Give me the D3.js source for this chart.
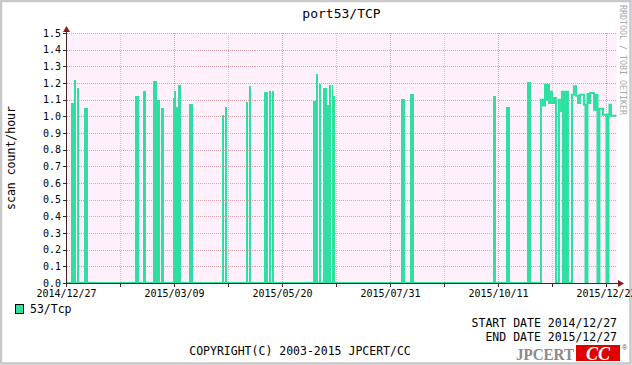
<!DOCTYPE html>
<html><head><meta charset="utf-8">
<script src="https://cdn.jsdelivr.net/npm/d3@7"></script>
<style>html,body{margin:0;padding:0;background:#fff;}svg{display:block;}</style>
</head><body><svg id="c" width="632" height="365"></svg>
<script>
// ---------------- data ----------------
const title = "port53/TCP";
const yTitle = "scan count/hour";
const seriesName = "53/Tcp";
const startDate = "2014-12-27";
const spanDays = 366.67;
const yTicks = [0,0.1,0.2,0.3,0.4,0.5,0.6,0.7,0.8,0.9,1.0,1.1,1.2,1.3,1.4,1.5];
const majorTickDays = [0,72,144,216,288,360];
const minorTickDays = [36,108,180,252,324];
// dense bursts (days since start, value)
const burstStart = [3.0,5.0,7.0,11.7, 45.7,51.0,57.7,60.3,63.0,71.0,71.7,74.3,81.7,
  103.7,106.0,119.7,121.7,131.7,135.0,136.9, 164.3,166.3,168.3,171.0,173.7,175.0,176.8,177.7,
  223.0,229.0, 284.3,293.0,307.0, 330.3];
const burstEnd = [5.0,6.5,8.1,14.3, 48.3,53.0,60.3,62.3,65.0,71.7,73.3,76.3,84.3,
  105.3,107.0,121.2,123.0,134.3,136.2,138.3, 166.3,167.7,169.7,173.7,175.0,176.3,177.7,178.7,
  225.7,231.7, 286.3,295.7,309.7, 334.3];
const burstValue = [1.08,1.22,1.17,1.05, 1.12,1.15,1.21,1.10,1.05,1.11,1.15,1.19,1.076,
  1.01,1.058,1.088,1.184,1.148,1.154,1.154, 1.094,1.256,1.196,1.172,1.07,1.19,1.19,1.124,
  1.106,1.136, 1.124,1.058,1.208, 1.148];
// step line (value holds from this day until the next)
const lineDay = [0,73.3,74.3,316.3,317.7,319.0,320.0,320.7,321.7,322.3,323.7,325.0,326.3,328.3,329.7,330.3,
  334.3,337.0,338.3,339.7,341.0,342.3,345.0,346.0,347.3,348.3,349.0,351.7,353.0,354.0,355.3,357.7,
  360.0,361.3,362.0,363.0,366.67];
const lineValue = [0,1.05,0,1.10,1.065,1.19,1.10,1.19,1.08,1.148,1.08,1.11,0,1.10,1.03,1.148,
  0,1.13,1.18,1.124,1.08,1.13,1.07,0,1.134,1.08,1.14,1.04,1.13,0,1.045,1.01,
  0,1.01,1.07,1.004,1.004];
const startLabel = "START DATE 2014/12/27";
const endLabel = "END DATE 2015/12/27";
const copyright = "COPYRIGHT(C) 2003-2015 JPCERT/CC";

// ---------------- drawing ----------------
const svg = d3.select("#c");
const W = 632, H = 365;
const green = "#2ee0a0";
const mono = "DejaVu Sans Mono";
const t0 = d3.timeParse("%Y-%m-%d")(startDate);
const dayMs = 86400000;
const toDate = d => new Date(t0.getTime() + d * dayMs);
const x = d3.scaleTime().domain([t0, toDate(spanDays)]).range([66.5, 616.5]);
const y = d3.scaleLinear().domain([0, 1.5]).range([283, 33]);

// canvas + frame
svg.append("rect").attr("x",0).attr("y",0).attr("width",W).attr("height",H).attr("fill","#fff");
svg.append("rect").attr("x",1).attr("y",1).attr("width",W-2.5).attr("height",H-2.5)
  .attr("fill","none").attr("stroke","#c8c8c8").attr("stroke-width",2.5);

// plot background
svg.append("rect").attr("x",x.range()[0]).attr("y",y(1.5)).attr("width",x.range()[1]-x.range()[0])
  .attr("height",y(0)-y(1.5)).attr("fill","#fff0fc");

// grid
const g = svg.append("g").attr("shape-rendering","crispEdges");
g.selectAll(".hg").data(yTicks.filter(v=>v>0)).join("line")
  .attr("x1",x.range()[0]).attr("x2",x.range()[1])
  .attr("y1",d=>Math.round(y(d))+0.5).attr("y2",d=>Math.round(y(d))+0.5)
  .attr("stroke","#e8a0a8").attr("stroke-dasharray","1,1");
g.selectAll(".vmin").data(minorTickDays).join("line")
  .attr("x1",d=>Math.floor(x(toDate(d)))+0.5).attr("x2",d=>Math.floor(x(toDate(d)))+0.5)
  .attr("y1",y(1.5)).attr("y2",y(0))
  .attr("stroke","#d8c0d0").attr("stroke-dasharray","1,1");
g.selectAll(".vmaj").data(majorTickDays.filter(d=>d>0)).join("line")
  .attr("x1",d=>Math.floor(x(toDate(d)))+0.5).attr("x2",d=>Math.floor(x(toDate(d)))+0.5)
  .attr("y1",y(1.5)).attr("y2",y(0))
  .attr("stroke","#e8a0a8").attr("stroke-dasharray","1,1");

// bursts (filled)
const area = d3.area().x(d=>x(d[0])).y0(y(0)).y1(d=>y(d[1])).curve(d3.curveStepAfter);
const bursts = burstStart.map((s,i)=>[[toDate(s),burstValue[i]],[toDate(burstEnd[i]),burstValue[i]]]);
svg.append("g").attr("shape-rendering","crispEdges").selectAll("path").data(bursts).join("path")
  .attr("d",area).attr("fill",green);

// step line
const linePts = lineDay.map((d,i)=>[toDate(d), lineValue[i]]);
const line = d3.line().x(d=>x(d[0])).y(d=>y(d[1])).curve(d3.curveStepAfter);
svg.append("path").datum(linePts).attr("d",line).attr("fill","none")
  .attr("stroke",green).attr("stroke-width",2);

// axes
const axisCol = "#4a2020", arrowCol = "#8b1a1a";
const ax = svg.append("g").attr("shape-rendering","crispEdges");
ax.append("line").attr("x1",66.5).attr("x2",66.5).attr("y1",287).attr("y2",29).attr("stroke",axisCol);
ax.append("line").attr("x1",63).attr("x2",619).attr("y1",283.5).attr("y2",283.5).attr("stroke",axisCol);
ax.selectAll(".yt").data(yTicks).join("line")
  .attr("x1",63).attr("x2",66).attr("y1",d=>Math.round(y(d))+0.5).attr("y2",d=>Math.round(y(d))+0.5)
  .attr("stroke",axisCol);
ax.selectAll(".xt").data(majorTickDays.concat(minorTickDays)).join("line")
  .attr("x1",d=>Math.floor(x(toDate(d)))+0.5).attr("x2",d=>Math.floor(x(toDate(d)))+0.5)
  .attr("y1",284).attr("y2",287).attr("stroke",axisCol);
svg.append("path").attr("d","M66.5,26 L63,32 L70,32 Z").attr("fill",arrowCol);
svg.append("path").attr("d","M624,283.5 L618,280 L618,287 Z").attr("fill",arrowCol);

// tick labels
const fmt1 = d3.format(".1f");
svg.append("g").selectAll("text").data(yTicks).join("text")
  .attr("x",61).attr("y",d=>y(d)+3.5).attr("text-anchor","end")
  .attr("font-family",mono).attr("font-size",10).attr("fill","#000").text(d=>fmt1(d));
const fmtD = d3.timeFormat("%Y/%m/%d");
svg.append("g").selectAll("text").data(majorTickDays).join("text")
  .attr("x",d=>x(toDate(d))).attr("y",297).attr("text-anchor","middle")
  .attr("font-family",mono).attr("font-size",10).attr("fill","#000").text(d=>fmtD(toDate(d)));

// titles
svg.append("text").attr("x",341.5).attr("y",18).attr("text-anchor","middle")
  .attr("font-family",mono).attr("font-size",13).attr("fill","#000").text(title);
svg.append("text").attr("transform","translate(15,158) rotate(-90)").attr("text-anchor","middle")
  .attr("font-family",mono).attr("font-size",11.5).attr("fill","#000").text(yTitle);
svg.append("text").attr("transform","translate(620,5) rotate(90)").attr("text-anchor","start")
  .attr("font-family",mono).attr("font-size",8.3).attr("fill","#a8a8a8").text("RRDTOOL / TOBI OETIKER");

// legend
svg.append("rect").attr("x",15.5).attr("y",304.5).attr("width",8).attr("height",9)
  .attr("fill",green).attr("stroke","#000").attr("stroke-width",1);
svg.append("text").attr("x",30).attr("y",313).attr("font-family",mono).attr("font-size",11.5)
  .attr("fill","#000").text(seriesName);
svg.append("text").attr("x",617).attr("y",327).attr("text-anchor","end").attr("font-family",mono)
  .attr("font-size",11.5).attr("fill","#000").text(startLabel);
svg.append("text").attr("x",617).attr("y",341).attr("text-anchor","end").attr("font-family",mono)
  .attr("font-size",11.5).attr("fill","#000").text(endLabel);
svg.append("text").attr("x",300).attr("y",355).attr("text-anchor","middle").attr("font-family",mono)
  .attr("font-size",11.5).attr("fill","#000").text(copyright);

// logo
svg.append("text").attr("x",516).attr("y",359.5).attr("font-family","Liberation Serif")
  .attr("font-weight","bold").attr("font-size",16).attr("fill","#8a8a8a")
  .attr("textLength",58).attr("lengthAdjust","spacingAndGlyphs").text("JPCERT");
svg.append("rect").attr("x",576).attr("y",345).attr("width",44).attr("height",16).attr("fill","#e00000");
svg.append("text").attr("x",598).attr("y",359.5).attr("text-anchor","middle").attr("font-family","Liberation Serif")
  .attr("font-weight","bold").attr("font-style","italic").attr("font-size",18).attr("fill","#fff").text("CC");
svg.append("text").attr("x",622).attr("y",350).attr("font-family","Liberation Sans")
  .attr("font-size",7).attr("fill","#555").text("®");
</script></body></html>
